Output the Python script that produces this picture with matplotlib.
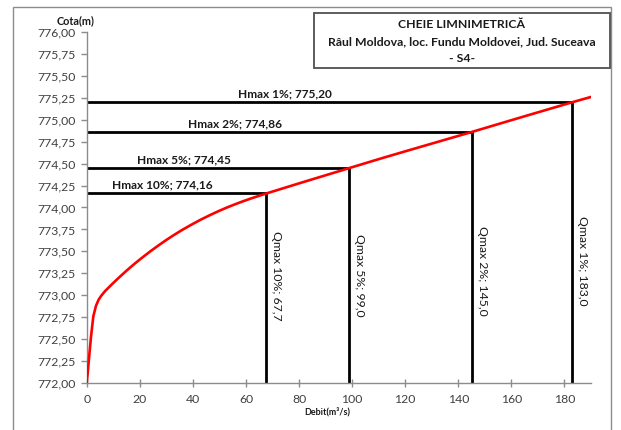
import matplotlib
matplotlib.use("Agg")
import matplotlib.pyplot as plt
from matplotlib.patches import Rectangle

# Rating curve (discharge Q in m3/s vs. water level H in m)
debit = [0, 0.4, 0.9, 1.6, 2.5, 3.5, 4.5, 5.5, 7, 9.5, 12, 15, 18, 21, 24, 27,
         30, 33, 36, 39.5, 43, 46.5, 50, 53, 56, 59, 62, 67.7, 80, 99, 111,
         120, 145, 165, 183, 190]
cota = [772.00, 772.12, 772.29, 772.52, 772.76, 772.88, 772.95, 772.995, 773.05,
        773.125, 773.197, 773.28, 773.358, 773.431, 773.501, 773.567, 773.630,
        773.689, 773.745, 773.805, 773.862, 773.914, 773.963, 774.002, 774.038,
        774.072, 774.104, 774.16, 774.275, 774.45, 774.56, 774.64, 774.86,
        775.04, 775.20, 775.26]

# Design floods
prob = ["10%", "5%", "2%", "1%"]
qmax = [67.7, 99.0, 145.0, 183.0]
hmax = [774.16, 774.45, 774.86, 775.20]

# Label anchors
h_label_x = [28.4, 36.7, 56.0, 74.5]
q_label_y = [773.22, 773.23, 773.28, 773.39]

x_ticks = list(range(0, 181, 20))
y_ticks = [772 + 0.25 * i for i in range(17)]

FONT = "Lato"
plt.rcParams["font.family"] = [FONT, "DejaVu Sans"]

fig = plt.figure(figsize=(6.21, 4.30), dpi=100)
ax = fig.add_axes([0.1396, 0.1093, 0.9517 - 0.1396, 0.9256 - 0.1093])

ax.plot(debit, cota, color="#ff0000", lw=1.9, zorder=3,
        solid_capstyle="round", solid_joinstyle="round")

for p, q, h, lx, ly in zip(prob, qmax, hmax, h_label_x, q_label_y):
    ax.plot([0, q], [h, h], color="black", lw=2.0, zorder=2)
    ax.plot([q, q], [772, h], color="black", lw=2.0, zorder=2)
    hs = f"{h:.2f}".replace(".", ",")
    qs = f"{q:.1f}".replace(".", ",")
    ax.annotate(f"Hmax {p}; {hs}", xy=(lx, h), xytext=(0, 2.2),
                textcoords="offset points", ha="center", va="bottom",
                fontsize=8.6, fontweight="bold", color="#1a1a1a")
    ax.annotate(f"Qmax {p}; {qs}", xy=(q, ly), xytext=(3.6, 0),
                textcoords="offset points", ha="left", va="center",
                rotation=270, fontsize=8.8, color="#1a1a1a")

ax.set_xlim(0, 190)
ax.set_ylim(772, 776)
ax.set_xticks(x_ticks)
ax.set_yticks(y_ticks)
ax.set_yticklabels([f"{v:.2f}".replace(".", ",") for v in y_ticks])

for s in ["top", "right"]:
    ax.spines[s].set_visible(False)
for s in ["left", "bottom"]:
    ax.spines[s].set_color("#8c8c8c")
    ax.spines[s].set_linewidth(1.0)

ax.tick_params(axis="y", direction="out", length=4, width=1.0, color="#8c8c8c",
               labelsize=8.8, labelcolor="#404040", pad=4)
ax.tick_params(axis="x", direction="inout", length=6, width=1.0, color="#8c8c8c",
               labelsize=8.8, labelcolor="#404040", pad=5)

# Axis titles
fig.text(76 / 621, 1 - 20.5 / 430, "Cota(m)", ha="center", va="center",
         fontsize=7.8, fontweight="bold", color="#1a1a1a")
fig.text(327 / 621, 1 - 411.5 / 430, "Debit(m\u00b3/s)", ha="center", va="center",
         fontsize=6.5, fontweight="bold", color="#1a1a1a")

# Outer chart frame
fig.patches.append(Rectangle((13 / 621, -0.05), (611 - 13) / 621, (430 - 7) / 430 + 0.05,
                             transform=fig.transFigure, fill=False,
                             edgecolor="#8c8c8c", lw=1.0, zorder=0))

# Title box
fig.patches.append(Rectangle((314 / 621, 1 - 68 / 430), (610 - 314) / 621, (68 - 13) / 430,
                             transform=fig.transFigure, facecolor="white",
                             edgecolor="#505050", lw=1.3, zorder=5))
title_lines = ["CHEIE LIMNIMETRIC\u0102",
               "R\u00e2ul Moldova, loc. Fundu Moldovei, Jud. Suceava",
               "- S4-"]
for line, ypx in zip(title_lines, [24, 41.5, 58.5]):
    fig.text(462 / 621, 1 - ypx / 430, line, ha="center", va="center",
             fontsize=8.8, fontweight="bold", color="#1a1a1a", zorder=6)

fig.savefig("out.png", dpi=100)
